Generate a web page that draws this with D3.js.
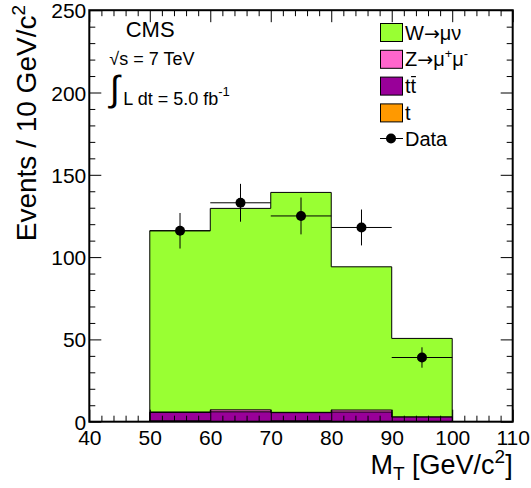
<!DOCTYPE html>
<html><head><meta charset="utf-8">
<script src="https://cdn.jsdelivr.net/npm/d3@7"></script>
<style>
body{margin:0;background:#fff;}
text{font-family:"Liberation Sans",Arial,Helvetica,sans-serif;fill:#000;}
</style></head>
<body><svg id="c" width="531" height="488"></svg>
<script>
// ---- data ----
const binLow = [50, 60, 70, 80, 90];
const binWidth = 10;
const singleTop = [0.5, 0.1, 0.5, 0.1, 0.1];   // t
const ttbar = [5.1, 5.9, 5.0, 5.8, 2.7];        // tt
const zmumu = [0.3, 1.2, 0.2, 1.2, 0.1];        // Z->mu mu
const wmunu = [110.1, 122.4, 133.6, 87.0, 47.7]; // W->mu nu
const dataCounts = [116, 133, 125, 118, 39];
const dataErrors = [10.8, 11.5, 11.2, 10.9, 6.2];
const xMajorTicks = [40, 50, 60, 70, 80, 90, 100, 110];
const yMajorTicks = [0, 50, 100, 150, 200, 250];
const legendLabels = ["W→μν", "Z→μ+μ-", "tt̄", "t", "Data"];
const colors = {W: "#99ff33", Z: "#ff66cc", tt: "#990099", t: "#ff9900"};

const svg = d3.select("#c");
const L = 89.3, R = 512.7, T = 10.2, B = 421.7;
const x = d3.scaleLinear().domain([40, 110]).range([L, R]);
const y = d3.scaleLinear().domain([0, 250]).range([B, T]);

// cumulative stack
const layers = [
  {key: "t", vals: singleTop},
  {key: "tt", vals: ttbar},
  {key: "Z", vals: zmumu},
  {key: "W", vals: wmunu}
];
let cum = binLow.map(() => 0);
layers.forEach(l => { cum = cum.map((c, i) => c + l.vals[i]); l.cum = cum.slice(); });

function stepPath(vals) {
  const p = d3.path();
  p.moveTo(x(binLow[0]), y(0));
  vals.forEach((v, i) => {
    p.lineTo(x(binLow[i]), y(v));
    p.lineTo(x(binLow[i] + binWidth), y(v));
  });
  p.lineTo(x(binLow[binLow.length - 1] + binWidth), y(0));
  return p.toString();
}
// draw top cumulative first
layers.slice().reverse().forEach(l => {
  svg.append("path").attr("d", stepPath(l.cum))
    .attr("fill", colors[l.key]).attr("stroke", "#000").attr("stroke-width", 1);
});

// data points
const dg = svg.append("g");
dataCounts.forEach((v, i) => {
  const cx = x(binLow[i] + binWidth / 2);
  dg.append("line").attr("x1", x(binLow[i])).attr("x2", x(binLow[i] + binWidth))
    .attr("y1", y(v)).attr("y2", y(v)).attr("stroke", "#000").attr("stroke-width", 1);
  dg.append("line").attr("x1", cx).attr("x2", cx)
    .attr("y1", y(v - dataErrors[i])).attr("y2", y(v + dataErrors[i])).attr("stroke", "#000").attr("stroke-width", 1);
  dg.append("circle").attr("cx", cx).attr("cy", y(v)).attr("r", 5).attr("fill", "#000");
});

// axes (ticks inward)
const xMinor = d3.range(40, 110.001, 2).filter(v => v % 10 !== 0);
const yMinor = d3.range(0, 250.001, 10).filter(v => v % 50 !== 0);
function ax(gen, tr) {
  const g = svg.append("g").attr("transform", tr).call(gen);
  g.select(".domain").remove();
  g.selectAll("line").attr("stroke", "#000").attr("stroke-width", 1);
  return g;
}
ax(d3.axisBottom(x).tickValues(xMinor).tickSize(-6).tickFormat(""), `translate(0,${B})`);
ax(d3.axisTop(x).tickValues(xMinor).tickSize(-6).tickFormat(""), `translate(0,${T})`);
ax(d3.axisTop(x).tickValues(xMajorTicks).tickSize(-12).tickFormat(""), `translate(0,${T})`);
const xb = ax(d3.axisBottom(x).tickValues(xMajorTicks).tickSize(-12).tickPadding(0).tickFormat(d3.format("d")), `translate(0,${B})`);
xb.selectAll("text").attr("y", 23.5).attr("dy", 0).style("font-size", "21px")
  .style("font-family", '"Liberation Sans",Arial,sans-serif');
ax(d3.axisLeft(y).tickValues(yMinor).tickSize(-6).tickFormat(""), `translate(${L},0)`);
ax(d3.axisRight(y).tickValues(yMinor).tickSize(-6).tickFormat(""), `translate(${R},0)`);
ax(d3.axisRight(y).tickValues(yMajorTicks).tickSize(-12).tickFormat(""), `translate(${R},0)`);
const yl = ax(d3.axisLeft(y).tickValues(yMajorTicks).tickSize(-12).tickFormat(d3.format("d")), `translate(${L},0)`);
yl.selectAll("text").attr("x", -3).attr("dy", "0.36em").style("font-size", "21px")
  .style("font-family", '"Liberation Sans",Arial,sans-serif');

// frame
svg.append("rect").attr("x", L).attr("y", T).attr("width", R - L).attr("height", B - T)
  .attr("fill", "none").attr("stroke", "#000").attr("stroke-width", 2);

// axis titles
const yt = svg.append("text").attr("transform", "translate(35.5,5) rotate(-90)")
  .attr("text-anchor", "end").style("font-size", "28px");
yt.append("tspan").text("Events / 10 GeV/c");
yt.append("tspan").attr("dy", -11).style("font-size", "19px").text("2");

const xt = svg.append("text").attr("x", 512.7).attr("y", 474)
  .attr("text-anchor", "end").style("font-size", "27px");
xt.append("tspan").text("M");
xt.append("tspan").attr("dy", 6).style("font-size", "19px").text("T");
xt.append("tspan").attr("dy", -6).text(" [GeV/c");
xt.append("tspan").attr("dy", -11).style("font-size", "19px").text("2");
xt.append("tspan").attr("dy", 11).text("]");

// CMS labels
svg.append("text").attr("x", 125.7).attr("y", 37.3).style("font-size", "22px").text("CMS");
svg.append("text").attr("x", 109.3).attr("y", 65).style("font-size", "18px").text("√s = 7 TeV");
svg.append("text").attr("x", 110).attr("y", 101).style("font-size", "36px")
  .style("font-family", '"DejaVu Sans",sans-serif').style("font-weight", "200").text("∫");
const lum = svg.append("text").attr("x", 123.3).attr("y", 105).style("font-size", "18px");
lum.append("tspan").text("L dt = 5.0 fb");
lum.append("tspan").attr("dy", -9).style("font-size", "13px").text("-1");

// legend
const lg = svg.append("g");
const rowC = [32.5, 59.3, 86.1, 112.9, 138.5];
const legendFill = [colors.W, colors.Z, colors.tt, colors.t];
const arrowFont = '"DejaVu Sans",sans-serif';
legendLabels.forEach((lab, i) => {
  const cy = rowC[i];
  if (i < 4) {
    lg.append("rect").attr("x", 380.5).attr("y", cy - 9).attr("width", 22).attr("height", 18)
      .attr("fill", legendFill[i]).attr("stroke", "#000").attr("stroke-width", 1);
  } else {
    lg.append("line").attr("x1", 380).attr("x2", 403).attr("y1", cy).attr("y2", cy)
      .attr("stroke", "#000").attr("stroke-width", 1);
    lg.append("circle").attr("cx", 391).attr("cy", cy).attr("r", 5).attr("fill", "#000");
  }
  const t = lg.append("text").attr("x", 405).attr("y", cy + 7).style("font-size", "20px");
  if (i === 0) {
    t.append("tspan").text("W");
    t.append("tspan").style("font-family", arrowFont).style("font-size", "19px").text("→");
    t.append("tspan").text("μν");
  } else if (i === 1) {
    t.append("tspan").text("Z");
    t.append("tspan").style("font-family", arrowFont).style("font-size", "19px").text("→");
    t.append("tspan").text("μ");
    t.append("tspan").attr("dy", -8).style("font-size", "13px").text("+");
    t.append("tspan").attr("dy", 8).text("μ");
    t.append("tspan").attr("dy", -8).style("font-size", "13px").text("-");
  } else if (i === 2) {
    t.append("tspan").text("t");
    t.append("tspan").text("t");
    const tw = t.node().getSubStringLength(1, 1);
    const tx0 = t.node().getStartPositionOfChar(1).x;
    lg.append("line").attr("x1", tx0 + 0.5).attr("x2", tx0 + tw - 0.2)
      .attr("y1", cy - 9.5).attr("y2", cy - 9.5).attr("stroke", "#000").attr("stroke-width", 1.2);
  } else {
    t.text(lab);
  }
});
</script></body></html>
